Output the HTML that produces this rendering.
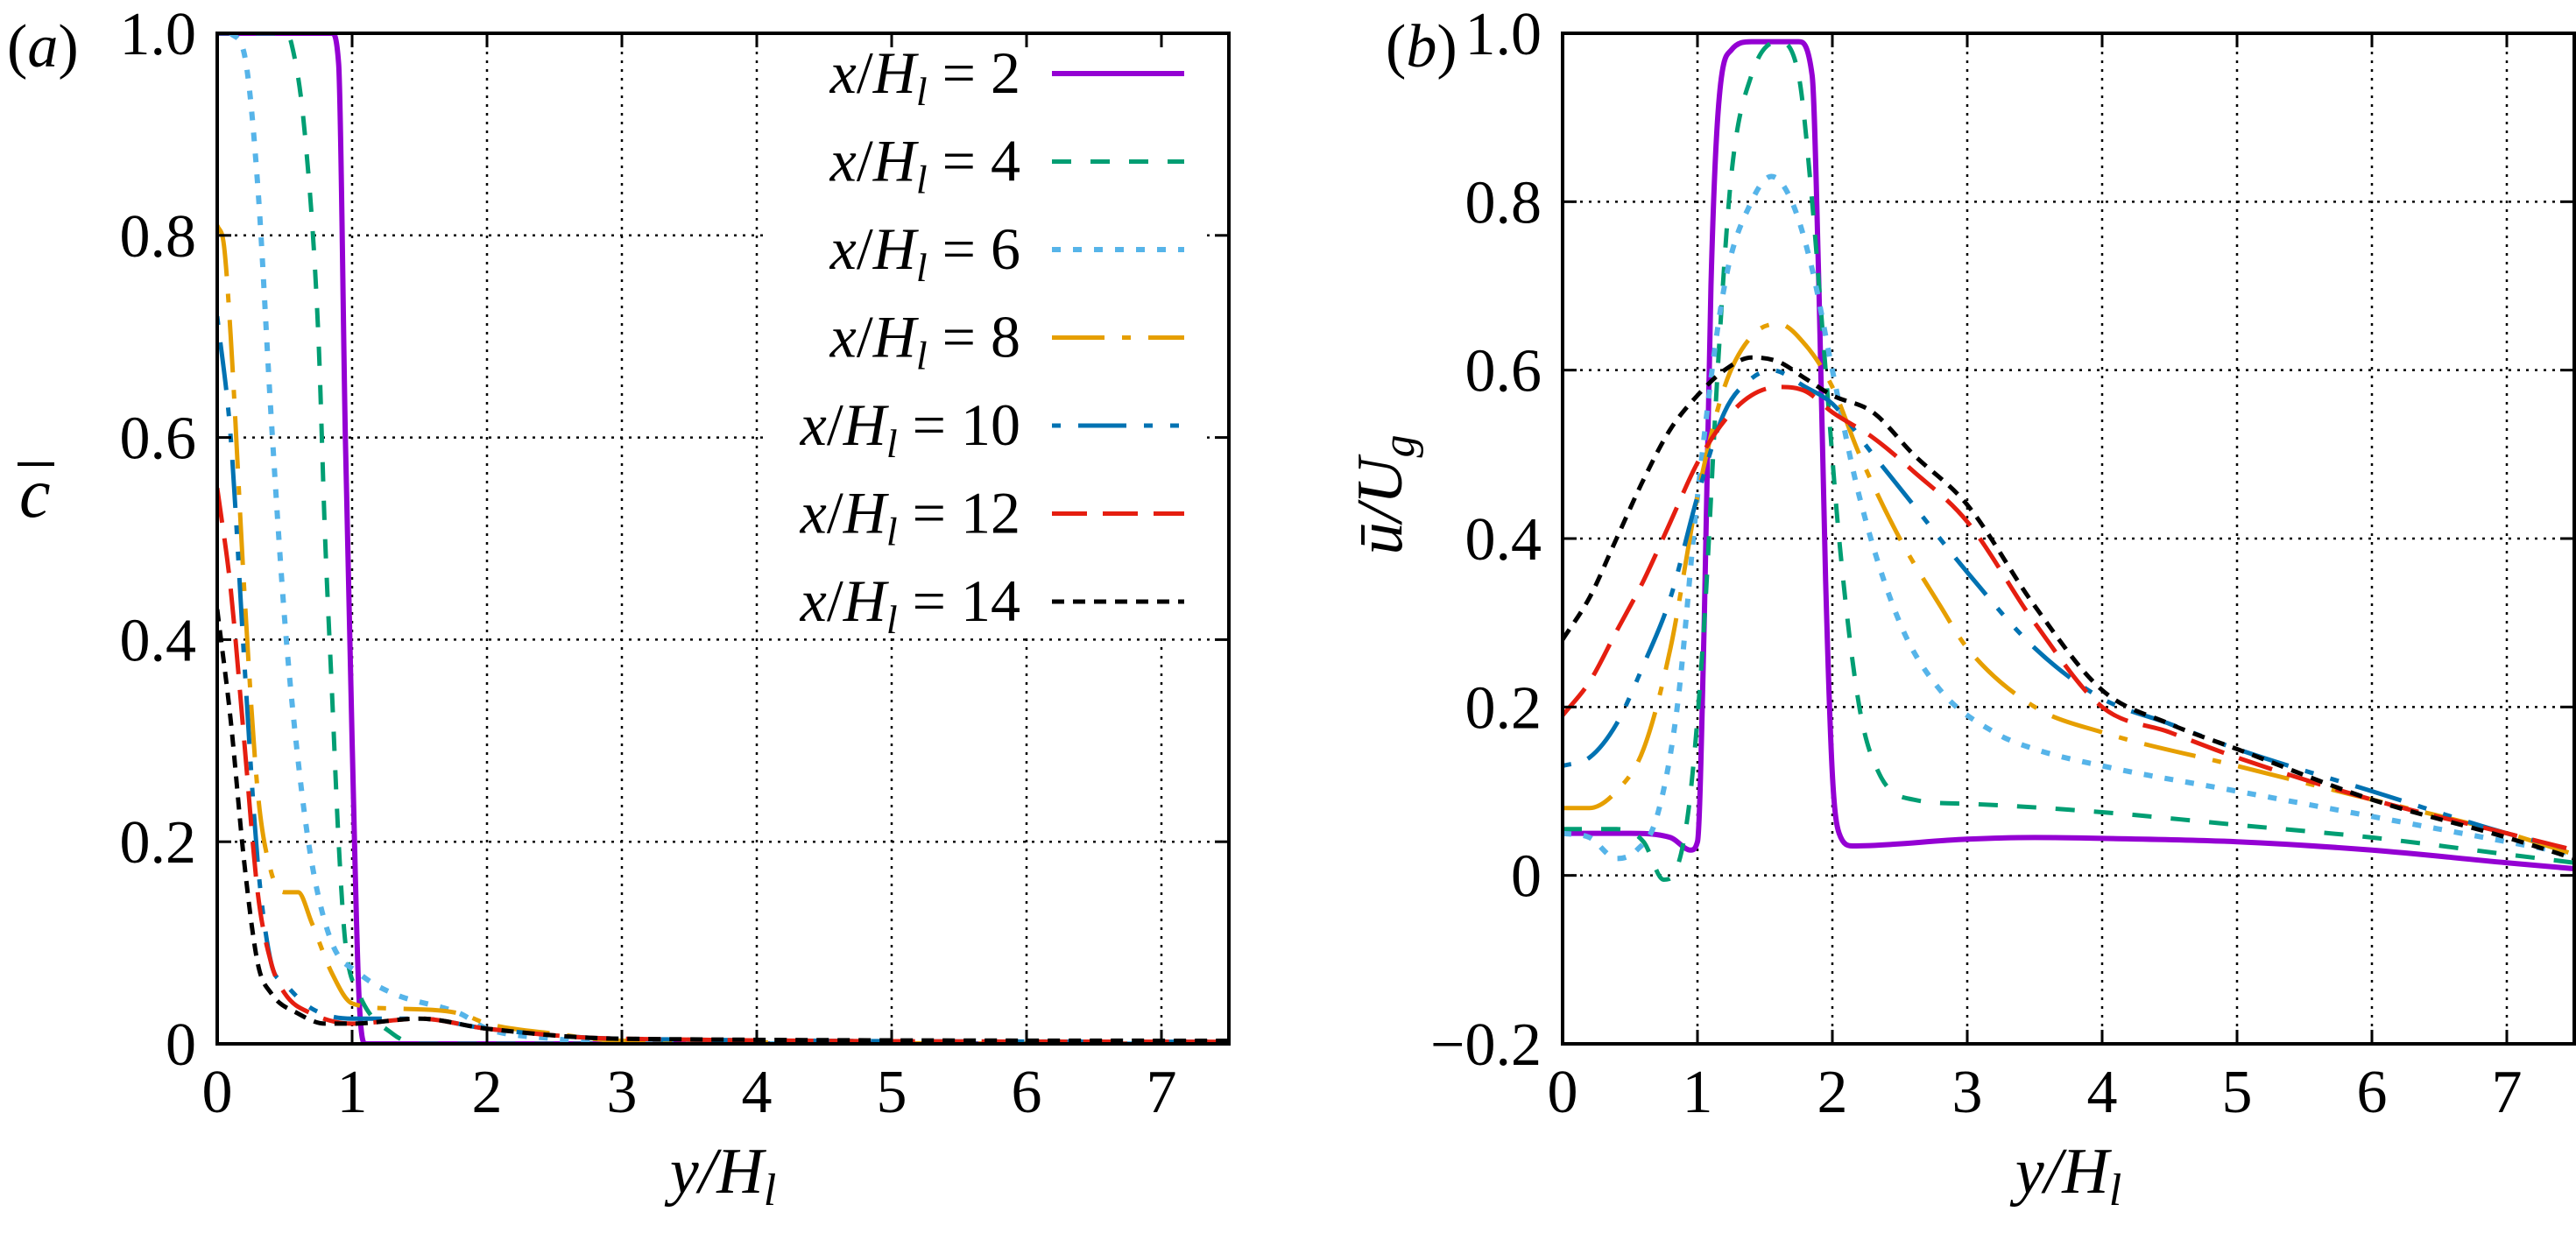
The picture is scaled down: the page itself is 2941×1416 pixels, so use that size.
<!DOCTYPE html>
<html><head><meta charset="utf-8"><style>
html,body{margin:0;padding:0;background:#fff}
svg{display:block}
text{font-family:"Liberation Serif",serif;fill:#000}
</style></head><body>
<svg id="chart" width="2941" height="1416" viewBox="0 0 2941 1416" xmlns="http://www.w3.org/2000/svg">
</svg>
<script>
// ---- data ----
const seriesLabels = ["2","4","6","8","10","12","14"];
const xTicks = [0,1,2,3,4,5,6,7];
const yTicksA = [0,0.2,0.4,0.6,0.8,1.0];
const yTickLabelsA = ["0","0.2","0.4","0.6","0.8","1.0"];
const yTicksB = [-0.2,0,0.2,0.4,0.6,0.8,1.0];
const yTickLabelsB = ["\u22120.2","0","0.2","0.4","0.6","0.8","1.0"];

// panel (a): c-bar
const a2x=[0,0.85,0.9,0.95,1.0,1.05,1.1,7.5];
const a2y=[1,1,0.97,0.6,0.3,0.05,0,0];
const a4x=[0,0.5,0.55,0.65,0.75,0.8,0.85,0.9,0.95,1.05,1.3,1.5,7.5];
const a4y=[1,1,0.99,0.9,0.7,0.5,0.35,0.2,0.1,0.05,0.01,0,0];
const a6x=[0.1,0.2,0.3,0.4,0.5,0.6,0.7,0.85,1.05,1.3,1.8,2.0,2.5,3,7.5];
const a6y=[1,0.98,0.85,0.62,0.42,0.28,0.18,0.1,0.07,0.05,0.03,0.015,0.005,0,0];
const a8x=[0,0.05,0.1,0.2,0.3,0.4,0.5,0.6,0.7,0.85,1.0,1.3,1.8,2.0,2.5,3,7.5];
const a8y=[0.81,0.79,0.7,0.45,0.25,0.17,0.15,0.15,0.12,0.07,0.04,0.035,0.03,0.02,0.01,0.003,0];
const a10x=[0,0.1,0.2,0.3,0.4,0.5,0.7,1.0,1.5,2.0,3,7.5];
const a10y=[0.72,0.6,0.38,0.18,0.08,0.06,0.035,0.025,0.025,0.015,0.005,0.002];
const a12x=[0,0.1,0.2,0.3,0.4,0.5,0.7,1.0,1.5,2.0,3,7.5];
const a12y=[0.55,0.45,0.3,0.15,0.08,0.05,0.03,0.02,0.025,0.015,0.005,0.002];
const a14x=[0,0.1,0.2,0.3,0.4,0.6,0.8,1.0,1.5,2.0,3,7.5];
const a14y=[0.43,0.32,0.18,0.08,0.05,0.03,0.02,0.02,0.025,0.015,0.005,0.003];

// panel (b): u-bar / U_g
const b2x=[0,0.5,0.8,0.95,1.0,1.05,1.1,1.15,1.25,1.4,1.75,1.85,1.9,1.95,2.0,2.05,2.15,3,3.5,4,5,6,7,7.5];
const b2y=[0.05,0.05,0.045,0.03,0.04,0.3,0.7,0.9,0.98,0.99,0.99,0.95,0.7,0.35,0.12,0.05,0.035,0.043,0.045,0.044,0.04,0.03,0.015,0.008];
const b4x=[0,0.4,0.6,0.75,0.85,0.95,1.05,1.15,1.25,1.4,1.6,1.75,1.85,1.95,2.05,2.2,2.35,2.6,3,4,5,6,7,7.5];
const b4y=[0.055,0.055,0.04,-0.005,0.01,0.1,0.3,0.6,0.83,0.95,0.99,0.95,0.8,0.6,0.4,0.2,0.12,0.09,0.085,0.075,0.06,0.045,0.025,0.015];
const b6x=[0,0.2,0.4,0.55,0.7,0.85,1.0,1.2,1.4,1.55,1.7,1.85,2.0,2.2,2.5,2.8,3.2,3.5,4,5,6,7,7.5];
const b6y=[0.05,0.045,0.02,0.03,0.07,0.2,0.45,0.7,0.8,0.83,0.8,0.72,0.6,0.45,0.3,0.22,0.17,0.15,0.13,0.1,0.07,0.04,0.025];
const b8x=[0,0.2,0.4,0.6,0.8,1.0,1.2,1.4,1.6,1.8,2.0,2.2,2.5,2.8,3.0,3.5,4,5,6,7,7.5];
const b8y=[0.08,0.08,0.1,0.15,0.27,0.45,0.58,0.64,0.655,0.63,0.58,0.5,0.4,0.32,0.27,0.2,0.17,0.13,0.09,0.05,0.025];
const b10x=[0,0.2,0.4,0.6,0.8,1.0,1.2,1.4,1.55,1.8,2.0,2.3,2.6,3.0,3.5,4,4.5,5,6,7,7.5];
const b10y=[0.13,0.14,0.18,0.25,0.33,0.45,0.55,0.59,0.6,0.58,0.56,0.5,0.44,0.36,0.27,0.21,0.18,0.15,0.1,0.05,0.03];
const b12x=[0,0.2,0.4,0.6,0.8,1.0,1.2,1.4,1.6,1.8,2.0,2.3,2.6,3.0,3.5,4,4.5,5,6,7,7.5];
const b12y=[0.19,0.23,0.29,0.35,0.42,0.49,0.54,0.57,0.58,0.575,0.55,0.52,0.48,0.42,0.3,0.2,0.17,0.14,0.09,0.05,0.03];
const b14x=[0,0.2,0.4,0.6,0.8,1.0,1.2,1.4,1.6,1.8,2.0,2.3,2.6,3.0,3.5,4,4.5,5,6,7,7.5];
const b14y=[0.28,0.33,0.4,0.47,0.53,0.57,0.6,0.615,0.61,0.59,0.57,0.55,0.5,0.44,0.32,0.22,0.18,0.15,0.09,0.045,0.02];

// ---- styles ----
const colors=["#9400d3","#009e73","#56b4e9","#e69f00","#0072b2","#e51e10","#000000"];
const dashes=["","22 22","10 14","60 20 10 20","10 20 55 20 10 20","40 18","14 10"];
const widths=[6,5,6,5,5,5,5];

const NS="http://www.w3.org/2000/svg";
const svg=document.getElementById('chart');
function mk(tag,attrs,parent){const e=document.createElementNS(NS,tag);for(const k in attrs)e.setAttribute(k,attrs[k]);(parent||svg).appendChild(e);return e;}

const PA={x0:248,x1:1403,y0:1192,y1:38,xmin:0,xmax:7.5,ymin:0,ymax:1};
const PB={x0:1784,x1:2939,y0:1192,y1:38,xmin:0,xmax:7.5,ymin:-0.2,ymax:1};
function sx(p,v){return p.x0+(v-p.xmin)/(p.xmax-p.xmin)*(p.x1-p.x0);}
function sy(p,v){return p.y0-(v-p.ymin)/(p.ymax-p.ymin)*(p.y0-p.y1);}

// monotone cubic path (Fritsch-Carlson) in pixel space
function monoPath(X,Y){
  const n=X.length;
  if(n<3)return X.map((v,j)=>(j?'L':'M')+v.toFixed(1)+','+Y[j].toFixed(1)).join(' ');
  const d=[],m=new Array(n);
  for(let i=0;i<n-1;i++)d.push((Y[i+1]-Y[i])/(X[i+1]-X[i]));
  m[0]=d[0];m[n-1]=d[n-2];
  for(let i=1;i<n-1;i++){m[i]=(d[i-1]*d[i]<=0)?0:(d[i-1]+d[i])/2;}
  for(let i=0;i<n-1;i++){
    if(d[i]===0){m[i]=0;m[i+1]=0;continue;}
    const a=m[i]/d[i],b=m[i+1]/d[i],s=a*a+b*b;
    if(s>9){const t=3/Math.sqrt(s);m[i]=t*a*d[i];m[i+1]=t*b*d[i];}
  }
  let p='M'+X[0].toFixed(1)+','+Y[0].toFixed(1);
  for(let i=0;i<n-1;i++){
    const h=(X[i+1]-X[i])/3;
    p+=' C'+(X[i]+h).toFixed(1)+','+(Y[i]+m[i]*h).toFixed(1)+' '+(X[i+1]-h).toFixed(1)+','+(Y[i+1]-m[i+1]*h).toFixed(1)+' '+X[i+1].toFixed(1)+','+Y[i+1].toFixed(1);
  }
  return p;
}

function panel(p,name,yT,yL,xs,ys,letter,legend,letterX){
  const g=mk('g',{});
  
  
  xTicks.forEach(t=>{ if(t===0)return;
    const l=mk('line',{x1:sx(p,t),x2:sx(p,t),y1:p.y0,y2:p.y1,stroke:'#000','stroke-width':2.5,'stroke-dasharray':'3 7'},g);
    
    
  });
  yT.forEach(t=>{ if(t===p.ymin||t===p.ymax)return;
    const l=mk('line',{x1:p.x0,x2:p.x1,y1:sy(p,t),y2:sy(p,t),stroke:'#000','stroke-width':2.5,'stroke-dasharray':'3 7'},g);
    
    
  });
  if(legend){
    const r=mk('rect',{x:872,y:40,width:503,height:688,fill:'#fff'},g);
    
    
  }
  const cid='clip'+name;
  const cp=mk('clipPath',{id:cid},g);
  mk('rect',{x:p.x0,y:p.y1,width:p.x1-p.x0,height:p.y0-p.y1},cp);
  const sg=mk('g',{'clip-path':'url(#'+cid+')'},g);
  xs.forEach((xa,i)=>{
    const ya=ys[i];
    const d=monoPath(xa.map(v=>sx(p,v)),ya.map(v=>sy(p,v)));
    const path=mk('path',{d:d,fill:'none',stroke:colors[i],'stroke-width':widths[i],'stroke-dasharray':dashes[i],'stroke-linejoin':'round'},sg);
    
    
  });
  const fr=mk('rect',{x:p.x0,y:p.y1,width:p.x1-p.x0,height:p.y0-p.y1,fill:'none',stroke:'#000','stroke-width':4},g);
  
  
  xTicks.forEach(t=>{
    mk('line',{x1:sx(p,t),x2:sx(p,t),y1:p.y0,y2:p.y0-16,stroke:'#000','stroke-width':3},g);
    mk('line',{x1:sx(p,t),x2:sx(p,t),y1:p.y1,y2:p.y1+16,stroke:'#000','stroke-width':3},g);
    const tx=mk('text',{x:sx(p,t),y:p.y0+78,'font-size':70,'text-anchor':'middle'},g);
    tx.textContent=String(t);
    
    
  });
  yT.forEach((t,i)=>{
    mk('line',{x1:p.x0,x2:p.x0+16,y1:sy(p,t),y2:sy(p,t),stroke:'#000','stroke-width':3},g);
    mk('line',{x1:p.x1,x2:p.x1-16,y1:sy(p,t),y2:sy(p,t),stroke:'#000','stroke-width':3},g);
    const tx=mk('text',{x:p.x0-24,y:sy(p,t)+24,'font-size':70,'text-anchor':'end'},g);
    tx.textContent=yL[i];
    
    
  });
  const xl=mk('text',{x:(p.x0+p.x1)/2,y:1362,'font-size':74,'text-anchor':'middle','font-style':'italic'},g);
  xl.innerHTML='y/H<tspan font-size="52" dy="14">l</tspan>';
  
  
  const pl=mk('text',{x:letterX,y:76,'font-size':70},g);
  pl.innerHTML='(<tspan font-style="italic">'+letter+'</tspan>)';
  
  
  if(legend){
    seriesLabels.forEach((s,i)=>{
      const yy=84+100.5*i;
      const t=mk('text',{x:1165,y:yy+22,'font-size':68,'text-anchor':'end'},g);
      t.innerHTML='<tspan font-style="italic">x</tspan>/<tspan font-style="italic">H</tspan><tspan font-style="italic" font-size="46" dy="14">l</tspan><tspan dy="-14"> = '+s+'</tspan>';
      
      
      const l=mk('line',{x1:1201,x2:1352,y1:yy,y2:yy,stroke:colors[i],'stroke-width':widths[i],'stroke-dasharray':dashes[i]},g);
      
      
    });
  }
}
panel(PA,'panel-a',yTicksA,yTickLabelsA,[a2x,a4x,a6x,a8x,a10x,a12x,a14x],[a2y,a4y,a6y,a8y,a10y,a12y,a14y],'a',true,8);
panel(PB,'panel-b',yTicksB,yTickLabelsB,[b2x,b4x,b6x,b8x,b10x,b12x,b14x],[b2y,b4y,b6y,b8y,b10y,b12y,b14y],'b',false,1582);

const ya=mk('text',{x:22,y:590,'font-size':80,'font-style':'italic'});
ya.textContent='c';


const bar=mk('line',{x1:20,x2:62,y1:530,y2:530,stroke:'#000','stroke-width':4});


const yb=mk('text',{x:0,y:0,'font-size':74,'font-style':'italic','text-anchor':'middle',transform:'translate(1600,565) rotate(-90)'});
yb.innerHTML='ū/U<tspan font-size="52" dy="14">g</tspan>';


</script>
</body></html>
